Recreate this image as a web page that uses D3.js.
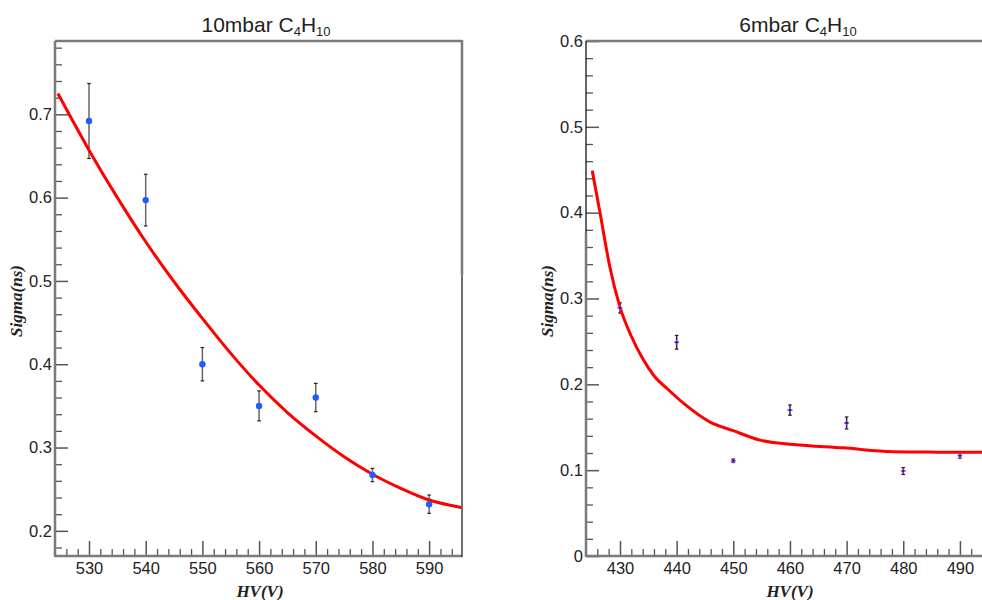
<!DOCTYPE html>
<html>
<head>
<meta charset="utf-8">
<script src="https://d3js.org/d3.v7.min.js"></script>
<style>
  body { margin: 0; background: #fff; }
  svg { display: block; }
  .tick text { font-family: "Liberation Sans", Arial, sans-serif; font-size: 16.5px; fill: #222; }
  .title { font-family: "Liberation Sans", Arial, sans-serif; font-size: 21px; fill: #222; }
  .alabel { font-family: "Liberation Serif", "Times New Roman", serif; font-style: italic; font-weight: bold; font-size: 17px; fill: #222; }
</style>
</head>
<body>
<svg id="chart" width="982" height="600"></svg>
<script>
// ---- left panel: 10 mbar ----
const hv10 = [530, 540, 550, 560, 570, 580, 590];
const sigma10 = [0.692, 0.597, 0.400, 0.350, 0.360, 0.267, 0.232];
const err10 = [0.045, 0.031, 0.020, 0.018, 0.017, 0.008, 0.011];
const fitHv10 = [524.5, 530, 535, 540, 545, 550, 555, 560, 565, 570, 575, 580, 585, 590, 595.7];
const fitSigma10 = [0.725, 0.657, 0.600, 0.547, 0.499, 0.455, 0.413, 0.375, 0.342, 0.314, 0.289, 0.268, 0.251, 0.237, 0.228];

// ---- right panel: 6 mbar ----
const hv6 = [430, 440, 450, 460, 470, 480, 490];
const sigma6 = [0.289, 0.249, 0.111, 0.170, 0.155, 0.099, 0.117];
const err6 = [0.006, 0.008, 0.002, 0.006, 0.007, 0.004, 0.003];
const fitHv6 = [425.1, 426.5, 428.2, 430, 432, 434, 436, 438.5, 441.2, 445.9, 450, 454.7, 460.6, 469.4, 478.2, 486, 493.9];
const fitSigma6 = [0.449, 0.399, 0.337, 0.290, 0.256, 0.230, 0.210, 0.194, 0.178, 0.156, 0.146, 0.135, 0.130, 0.126, 0.1215, 0.121, 0.1208];

const xTicks10 = [530, 540, 550, 560, 570, 580, 590];
const yTicks10 = [0.2, 0.3, 0.4, 0.5, 0.6, 0.7];
const xTicks6 = [430, 440, 450, 460, 470, 480, 490];
const yTicks6 = [0, 0.1, 0.2, 0.3, 0.4, 0.5, 0.6];

const svg = d3.select("#chart");
const frameColor = "#7a7a7a";

function panel(opt) {
  const x = d3.scaleLinear().domain(opt.xDomain).range([opt.left, opt.right]);
  const y = d3.scaleLinear().domain(opt.yDomain).range([opt.bottom, opt.top]);
  const g = svg.append("g");

  // minor ticks
  const xMinor = d3.range(Math.ceil(opt.xDomain[0] / 2) * 2, opt.xDomain[1], 2)
    .filter(v => v % 10 !== 0 && x(v) > opt.left + 1 && x(v) < opt.right - 1);
  const yMinor = d3.range(0, 1.0001, 0.02).map(v => +v.toFixed(2))
    .filter(v => Math.round(v * 100) % 10 !== 0 && v > opt.yDomain[0] && v < opt.yDomain[1]);

  g.append("g").attr("transform", `translate(0,${opt.bottom})`)
    .call(d3.axisBottom(x).tickValues(xMinor).tickSize(-7).tickFormat(""))
    .call(a => a.select(".domain").remove())
    .selectAll("line").attr("stroke", "#555").attr("stroke-width", 1.3);
  g.append("g").attr("transform", `translate(${opt.left},0)`)
    .call(d3.axisLeft(y).tickValues(yMinor).tickSize(-7).tickFormat(""))
    .call(a => a.select(".domain").remove())
    .selectAll("line").attr("stroke", "#555").attr("stroke-width", 1.3);

  // major ticks
  const xa = g.append("g").attr("transform", `translate(0,${opt.bottom})`)
    .call(d3.axisBottom(x).tickValues(opt.xTicks).tickSize(-15).tickPadding(6).tickFormat(d3.format("d")))
    .call(a => a.select(".domain").remove());
  xa.selectAll("line").attr("stroke", "#555").attr("stroke-width", 1.5);
  const ya = g.append("g").attr("transform", `translate(${opt.left},0)`)
    .call(d3.axisLeft(y).tickValues(opt.yTicks).tickSize(-13).tickPadding(3).tickFormat(d => d === 0 ? "0" : d3.format(".1f")(d)))
    .call(a => a.select(".domain").remove());
  ya.selectAll("line").attr("stroke", "#555").attr("stroke-width", 1.5);

  // frame
  g.append("line").attr("x1", opt.left).attr("x2", opt.right).attr("y1", opt.bottom).attr("y2", opt.bottom)
    .attr("stroke", frameColor).attr("stroke-width", 2.5);
  g.append("line").attr("x1", opt.left).attr("x2", opt.right).attr("y1", opt.top).attr("y2", opt.top)
    .attr("stroke", frameColor).attr("stroke-width", 2.5);
  // left axis: thin dark upper part (where present), thick gray below
  g.append("line").attr("x1", opt.left).attr("x2", opt.left).attr("y1", opt.top).attr("y2", opt.leftSplit)
    .attr("stroke", opt.leftSplit > opt.top ? "#111" : frameColor).attr("stroke-width", 1.3);
  g.append("line").attr("x1", opt.left).attr("x2", opt.left).attr("y1", opt.leftSplit).attr("y2", opt.bottom + 1)
    .attr("stroke", frameColor).attr("stroke-width", 2.5);
  if (opt.rightFrame) {
    g.append("line").attr("x1", opt.right).attr("x2", opt.right).attr("y1", opt.top - 1).attr("y2", opt.rightSplit)
      .attr("stroke", frameColor).attr("stroke-width", 2.5);
    g.append("line").attr("x1", opt.right).attr("x2", opt.right).attr("y1", opt.rightSplit).attr("y2", opt.bottom + 1)
      .attr("stroke", "#111").attr("stroke-width", 1.2);
  }

  // error bars
  const eb = g.append("g");
  opt.xs.forEach((v, i) => {
    const yt = y(opt.ys[i] + opt.es[i]), yb = y(opt.ys[i] - opt.es[i]), cx = x(v);
    eb.append("line").attr("x1", cx).attr("x2", cx).attr("y1", yt).attr("y2", yb)
      .attr("stroke", opt.errColor).attr("stroke-width", 1.5);
    [yt, yb].forEach(yy => eb.append("line").attr("x1", cx - 1.8).attr("x2", cx + 1.8).attr("y1", yy).attr("y2", yy)
      .attr("stroke", "#222").attr("stroke-width", 1.2));
  });

  // fit curve
  g.append("path")
    .datum(opt.fitX.map((v, i) => [v, opt.fitY[i]]))
    .attr("fill", "none").attr("stroke", "#ff0000").attr("stroke-width", 3)
    .attr("d", d3.line().x(d => x(d[0])).y(d => y(d[1])).curve(d3.curveMonotoneX));

  // markers
  if (opt.marker === "circle") {
    g.selectAll(".pt").data(opt.xs).join("circle")
      .attr("cx", d => x(d)).attr("cy", (d, i) => y(opt.ys[i])).attr("r", 3.2)
      .attr("fill", "#1f5cff");
  } else {
    g.selectAll(".pt").data(opt.xs).join("path")
      .attr("transform", (d, i) => `translate(${x(d)},${y(opt.ys[i])})`)
      .attr("d", d3.symbol(d3.symbolCross, 14))
      .attr("fill", "#a24dff");
    g.selectAll(".pc").data(opt.xs).join("circle")
      .attr("cx", d => x(d)).attr("cy", (d, i) => y(opt.ys[i])).attr("r", 1.2)
      .attr("fill", "#3a1466");
  }

  // title with subscripts
  const t = svg.append("text").attr("class", "title").attr("x", opt.titleX).attr("y", 32).attr("text-anchor", "middle");
  t.append("tspan").text(opt.title + " C");
  t.append("tspan").text("4").attr("font-size", 13).attr("dy", 4);
  t.append("tspan").text("H").attr("dy", -4);
  t.append("tspan").text("10").attr("font-size", 13).attr("dy", 4);

  // axis labels
  svg.append("text").attr("class", "alabel").attr("x", opt.xLabelX).attr("y", 597)
    .attr("text-anchor", "middle").text("HV(V)");
  svg.append("text").attr("class", "alabel")
    .attr("transform", `translate(${opt.yLabelX},301) rotate(-90)`)
    .attr("text-anchor", "middle").text("Sigma(ns)");
}

panel({
  left: 55, right: 462, top: 41, bottom: 556,
  xDomain: [524, 595.8], yDomain: [0.1698, 0.788],
  xTicks: xTicks10, yTicks: yTicks10,
  xs: hv10, ys: sigma10, es: err10, fitX: fitHv10, fitY: fitSigma10,
  marker: "circle", errColor: "#666",
  leftSplit: 41, rightFrame: true, rightSplit: 275,
  title: "10mbar", titleX: 266, xLabelX: 260, yLabelX: 22
});

panel({
  left: 586, right: 982, top: 41, bottom: 556,
  xDomain: [424, 493.9], yDomain: [0, 0.6],
  xTicks: xTicks6, yTicks: yTicks6,
  xs: hv6, ys: sigma6, es: err6, fitX: fitHv6, fitY: fitSigma6,
  marker: "star", errColor: "#222",
  leftSplit: 233, rightFrame: false,
  title: "6mbar", titleX: 798, xLabelX: 790, yLabelX: 553
});
</script>
</body>
</html>
